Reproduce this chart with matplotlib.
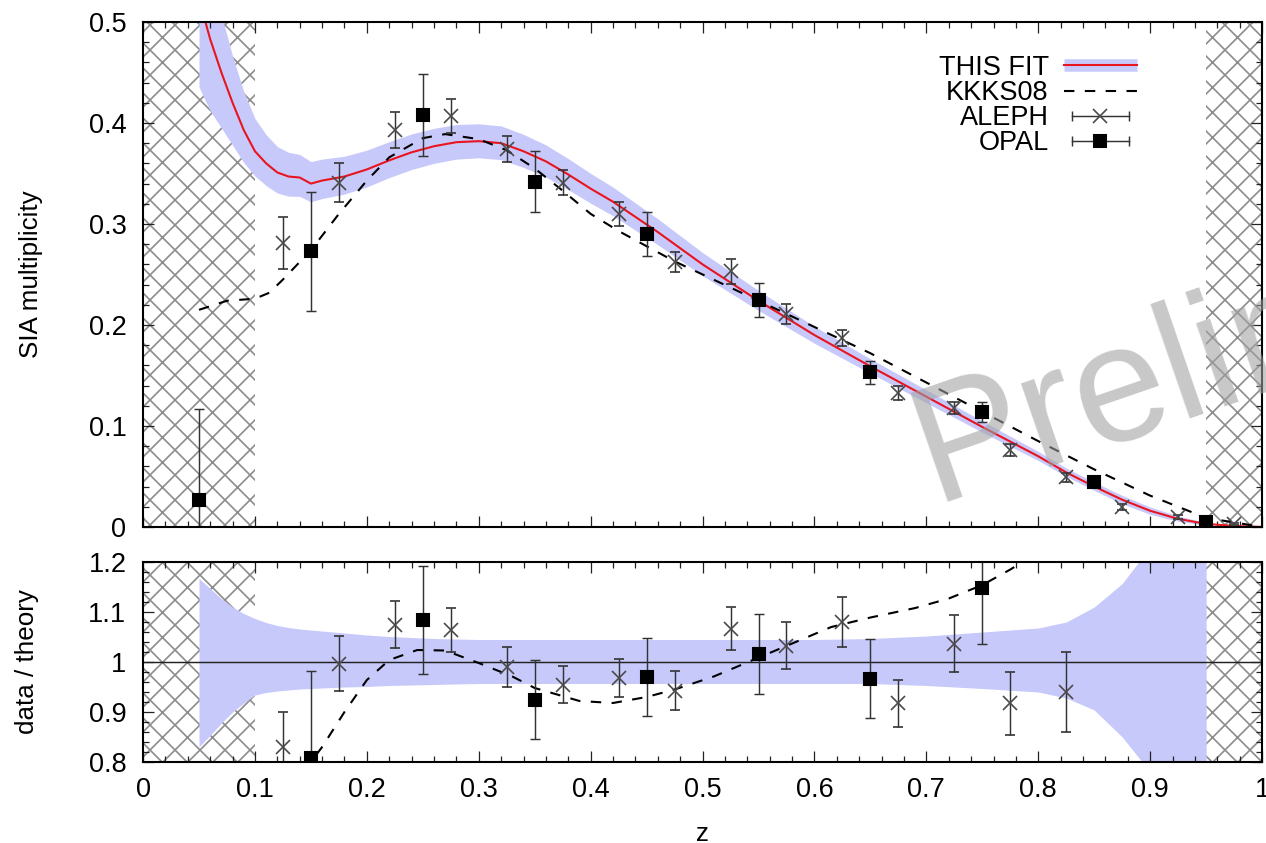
import numpy as np
import matplotlib
matplotlib.use("Agg")
import matplotlib.pyplot as plt
from matplotlib.lines import Line2D
from matplotlib.legend_handler import HandlerLine2D, HandlerTuple
from matplotlib.ticker import MultipleLocator, FuncFormatter

plt.rcParams.update({
    "font.family": ["Liberation Sans", "DejaVu Sans"],
    "font.size": 13,
    "hatch.linewidth": 0.8,
    "axes.linewidth": 1.0,
})

# fit curve + relative uncertainty band (band given as ratio to the fit)
z_fit = [0.05, 0.055, 0.06, 0.07, 0.08, 0.09, 0.10, 0.11, 0.12, 0.13, 0.14, 0.15, 0.16,
         0.18, 0.20, 0.22, 0.24, 0.26, 0.28, 0.30, 0.32, 0.34, 0.36, 0.38, 0.40, 0.42,
         0.44, 0.46, 0.48, 0.50, 0.55, 0.60, 0.65, 0.70, 0.75, 0.80, 0.825, 0.85, 0.875,
         0.90, 0.925, 0.95, 0.975, 1.0]
fit = [0.525, 0.503, 0.483, 0.450, 0.420, 0.393, 0.372, 0.360, 0.351, 0.347, 0.346, 0.340, 0.343,
       0.347, 0.354, 0.363, 0.371, 0.377, 0.381, 0.382, 0.380, 0.372, 0.362, 0.349, 0.335, 0.322,
       0.307, 0.292, 0.276, 0.260, 0.224, 0.190, 0.159, 0.129, 0.099, 0.070, 0.054, 0.040, 0.027,
       0.016, 0.008, 0.003, 0.001, 0.0]
band_hi = [1.167, 1.157, 1.147, 1.127, 1.110, 1.097, 1.087, 1.079, 1.073, 1.069, 1.066, 1.064, 1.062,
           1.058, 1.054, 1.051, 1.049, 1.047, 1.046, 1.045, 1.045, 1.045, 1.045, 1.045, 1.045, 1.045,
           1.045, 1.045, 1.045, 1.045, 1.045, 1.045, 1.047, 1.052, 1.060, 1.068, 1.080, 1.110, 1.157,
           1.230, 1.350, 1.500, 1.500, 1.500]
band_lo = [0.830, 0.842, 0.853, 0.878, 0.900, 0.918, 0.934, 0.939, 0.942, 0.944, 0.946, 0.947, 0.948,
           0.950, 0.951, 0.953, 0.954, 0.955, 0.956, 0.957, 0.957, 0.957, 0.957, 0.957, 0.957, 0.957,
           0.957, 0.957, 0.957, 0.957, 0.957, 0.957, 0.957, 0.953, 0.947, 0.940, 0.928, 0.904, 0.850,
           0.780, 0.700, 0.600, 0.600, 0.600]

# KKKS08
z_kkks = [0.05, 0.075, 0.10, 0.113, 0.125, 0.15, 0.175, 0.20, 0.22, 0.25, 0.27, 0.30, 0.325, 0.35,
          0.375, 0.40, 0.425, 0.45, 0.475, 0.50, 0.55, 0.60, 0.65, 0.70, 0.75, 0.80, 0.85, 0.90,
          0.95, 1.0]
kkks = [0.215, 0.224, 0.226, 0.232, 0.245, 0.274, 0.310, 0.343, 0.366, 0.385, 0.389, 0.384, 0.373, 0.355,
        0.333, 0.310, 0.293, 0.278, 0.263, 0.250, 0.224, 0.198, 0.172, 0.143, 0.114, 0.085, 0.057, 0.031,
        0.009, 0.0]
z_kkks_r = [0.10, 0.125, 0.15, 0.16, 0.18, 0.20, 0.22, 0.245, 0.27, 0.30, 0.33, 0.35, 0.39, 0.42,
            0.45, 0.475, 0.51, 0.545, 0.58, 0.615, 0.65, 0.69, 0.72, 0.75, 0.775, 0.80]
kkks_r = [0.61, 0.71, 0.80, 0.83, 0.90, 0.964, 1.004, 1.024, 1.023, 0.998, 0.971, 0.948, 0.922, 0.918,
          0.930, 0.945, 0.971, 1.004, 1.037, 1.070, 1.089, 1.108, 1.127, 1.154, 1.185, 1.220]

# ALEPH
z_aleph = [0.125, 0.175, 0.225, 0.275, 0.325, 0.375, 0.425, 0.475, 0.525, 0.575, 0.625, 0.675,
           0.725, 0.775, 0.825, 0.875, 0.925, 0.975]
aleph = [0.281, 0.341, 0.393, 0.407, 0.374, 0.341, 0.310, 0.262, 0.253, 0.211, 0.187, 0.133,
         0.118, 0.076, 0.049, 0.020, 0.010, 0.003]
aleph_err = [0.026, 0.019, 0.018, 0.017, 0.013, 0.012, 0.012, 0.010, 0.012, 0.010, 0.008, 0.007,
             0.006, 0.006, 0.004, 0.003, 0.002, 0.001]
z_aleph_r = z_aleph[:15]
aleph_r = [0.83, 0.997, 1.075, 1.065, 0.99, 0.955, 0.969, 0.943, 1.067, 1.033, 1.08, 0.917,
           1.037, 0.917, 0.94]
aleph_r_err = [0.07, 0.055, 0.047, 0.044, 0.04, 0.038, 0.038, 0.039, 0.043, 0.047, 0.05, 0.048,
               0.057, 0.064, 0.081]

# OPAL
z_opal = [0.05, 0.15, 0.25, 0.35, 0.45, 0.55, 0.65, 0.75, 0.85, 0.95]
opal = [0.027, 0.273, 0.408, 0.342, 0.290, 0.225, 0.153, 0.114, 0.045, 0.005]
opal_err = [0.090, 0.059, 0.041, 0.030, 0.022, 0.017, 0.011, 0.010, 0.005, 0.002]
z_opal_r = [0.15, 0.25, 0.35, 0.45, 0.55, 0.65, 0.75]
opal_r = [0.807, 1.085, 0.925, 0.97, 1.017, 0.967, 1.149]
opal_r_err = [0.175, 0.108, 0.08, 0.078, 0.08, 0.08, 0.112]

BAND = "#c8c9fb"
RED = "#e8151f"
HATCH = "#8c8c8c"
XCOL = "#4a4a4a"

zf = np.array(z_fit); ff = np.array(fit)
hi = np.array(band_hi); lo = np.array(band_lo)
inband = zf <= 0.95

fig = plt.figure(figsize=(8.44, 5.62), dpi=150)
ax1 = fig.add_axes([0.113, 0.3749, 0.8839, 0.599])
ax2 = fig.add_axes([0.113, 0.0961, 0.8839, 0.2372])

for ax in (ax1, ax2):
    for a, b in ((0, 0.1), (0.95, 1.0)):
        ax.axvspan(a, b, facecolor="white", edgecolor=HATCH, hatch="xx", lw=0, zorder=0.5)

# top: multiplicities
ax1.fill_between(zf[inband], (ff * lo)[inband], (ff * hi)[inband], color=BAND, lw=0, zorder=1)
ax1.plot(zf, ff, color=RED, lw=1.0, zorder=3)
ax1.plot(z_kkks, kkks, color="black", lw=1.0, ls=(0, (5, 5)), zorder=3)
ax1.errorbar(z_aleph, aleph, yerr=aleph_err, fmt="x", ms=7, mew=0.8, color=XCOL,
             ecolor="#333333", elinewidth=0.7, capsize=2.5, capthick=0.7, zorder=4)
ax1.errorbar(z_opal, opal, yerr=opal_err, fmt="s", ms=5.5, color="black",
             ecolor="#333333", elinewidth=0.7, capsize=2.5, capthick=0.7, zorder=5)
ax1.set_xlim(0, 1); ax1.set_ylim(0, 0.5)
ax1.yaxis.set_major_locator(MultipleLocator(0.1))
ax1.set_ylabel("SIA multiplicity", fontsize=12.5)
ax1.yaxis.set_label_coords(-0.089, 0.5)
ax1.tick_params(labelbottom=False)

# bottom: ratio to the fit
ax2.fill_between(zf[inband], lo[inband], hi[inband], color=BAND, lw=0, zorder=1)
ax2.axhline(1.0, color="#222222", lw=0.7, zorder=2)
ax2.plot(z_kkks_r, kkks_r, color="black", lw=1.0, ls=(0, (5, 5)), zorder=3)
ax2.errorbar(z_aleph_r, aleph_r, yerr=aleph_r_err, fmt="x", ms=7, mew=0.8, color=XCOL,
             ecolor="#333333", elinewidth=0.7, capsize=2.5, capthick=0.7, zorder=4)
ax2.errorbar(z_opal_r, opal_r, yerr=opal_r_err, fmt="s", ms=5.5, color="black",
             ecolor="#333333", elinewidth=0.7, capsize=2.5, capthick=0.7, zorder=5)
ax2.set_xlim(0, 1); ax2.set_ylim(0.8, 1.2)
ax2.yaxis.set_major_locator(MultipleLocator(0.1))
ax2.set_ylabel("data / theory", fontsize=12.5)
ax2.yaxis.set_label_coords(-0.093, 0.5)
ax2.set_xlabel("z", fontsize=12.5)
ax2.xaxis.set_label_coords(0.5, -0.3)

fmt = FuncFormatter(lambda v, p: f"{v:g}")
for ax in (ax1, ax2):
    ax.xaxis.set_major_locator(MultipleLocator(0.1))
    ax.xaxis.set_minor_locator(MultipleLocator(0.02))
    ax.yaxis.set_minor_locator(MultipleLocator(0.02))
    ax.xaxis.set_major_formatter(fmt); ax.yaxis.set_major_formatter(fmt)
    ax.tick_params(which="both", direction="in", top=True, right=True, width=0.6, color="#222222")
    ax.tick_params(which="major", length=5.5)
    ax.tick_params(which="minor", length=2.8)
    ax.tick_params(axis="y", pad=8, labelsize=13)
    ax.tick_params(axis="x", pad=7, labelsize=13)
    for s in ax.spines.values():
        s.set_linewidth(1.0); s.set_zorder(6)

# gnuplot-style key: text right-aligned, sample on the right
h_band = Line2D([], [], color=BAND, lw=6, solid_capstyle="butt")
h_red = Line2D([], [], color=RED, lw=1.0)
h_kk = Line2D([], [], color="black", lw=1.0, ls=(0, (5, 5)))
h_acap = Line2D([], [], color="#333333", lw=0.7, marker="|", ms=5, mew=0.7)
h_amk = Line2D([], [], ls="none", marker="x", ms=7, mew=0.8, color=XCOL)
h_ocap = Line2D([], [], color="#333333", lw=0.7, marker="|", ms=5, mew=0.7)
h_omk = Line2D([], [], ls="none", marker="s", ms=5.5, color="black")
leg = ax1.legend([(h_band, h_red), h_kk, (h_acap, h_amk), (h_ocap, h_omk)],
                 ["THIS FIT", "KKKS08", "ALEPH", "OPAL"],
                 handler_map={tuple: HandlerTuple(ndivide=1, pad=0),
                              h_acap: HandlerLine2D(numpoints=2),
                              h_ocap: HandlerLine2D(numpoints=2)},
                 loc="upper right", bbox_to_anchor=(0.888, 0.935), frameon=False,
                 markerfirst=False, fontsize=13, handlelength=2.7, handletextpad=0.55,
                 labelspacing=-0.03, borderpad=0, borderaxespad=0, numpoints=1)
leg.set_zorder(7)

fig.text(0.738, 0.405, "Preliminary", rotation=19, rotation_mode="anchor",
         fontsize=80, color="#a0a0a0", alpha=0.58, ha="left", va="baseline")

fig.savefig("out.png", dpi=150)
